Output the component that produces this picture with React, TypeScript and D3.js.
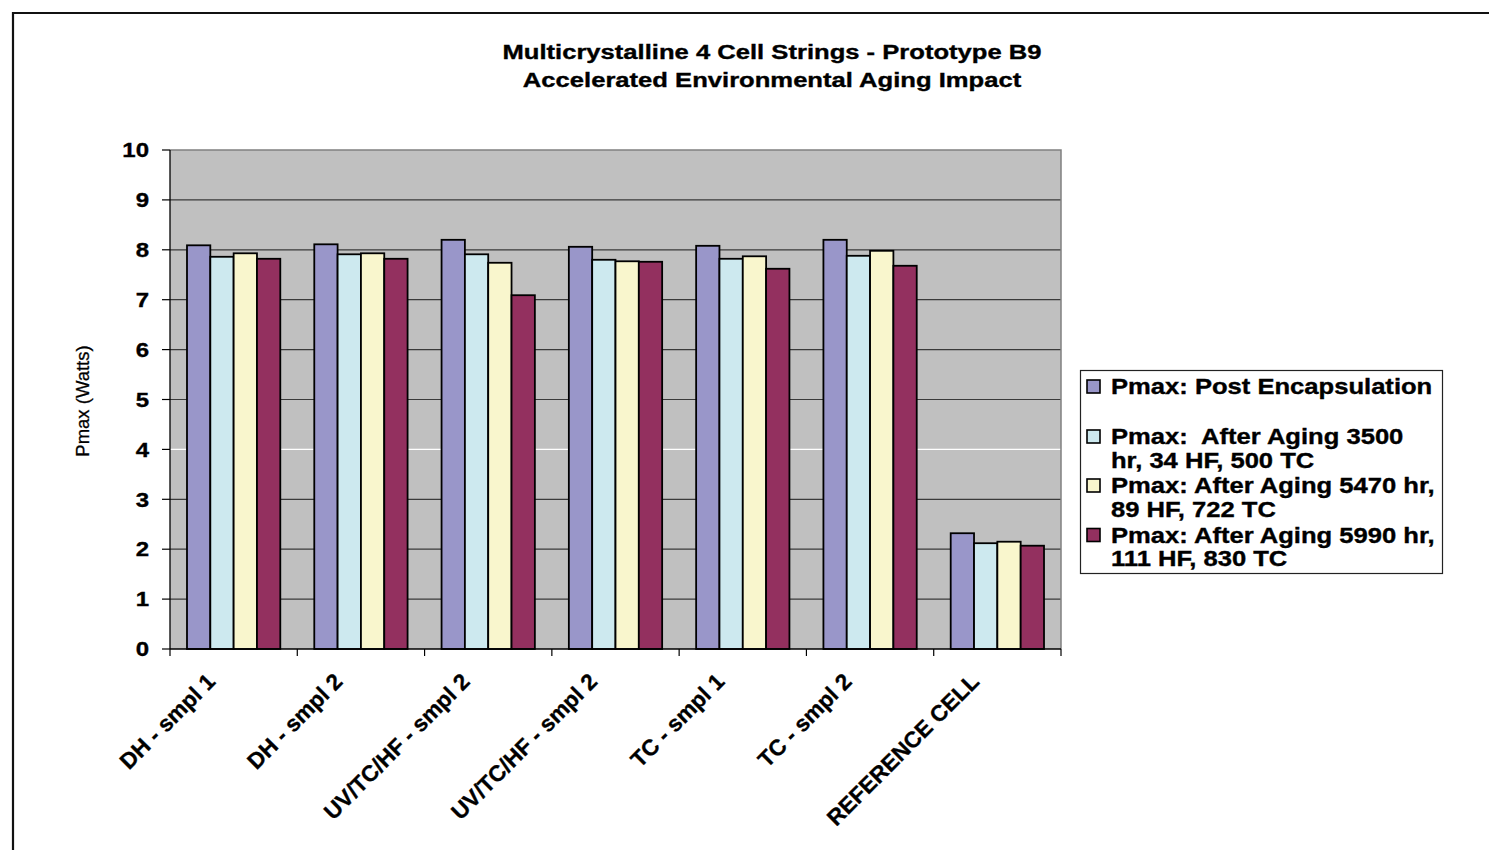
import React from "react";
import * as d3 from "d3";

// Sample categories along the x axis
const categories = [
  "DH - smpl 1",
  "DH - smpl 2",
  "UV/TC/HF - smpl 2",
  "UV/TC/HF - smpl 2 ",
  "TC - smpl 1",
  "TC - smpl 2",
  "REFERENCE CELL",
];

// Series names (legend lines) and fill colours
const seriesNames = [
  "Pmax: Post Encapsulation",
  "Pmax:  After Aging 3500 hr, 34 HF, 500 TC",
  "Pmax: After Aging 5470 hr, 89 HF, 722 TC",
  "Pmax: After Aging 5990 hr, 111 HF, 830 TC",
];
const legendLines = [
  ["Pmax: Post Encapsulation", ""],
  ["Pmax:  After Aging 3500", "hr, 34 HF, 500 TC"],
  ["Pmax: After Aging 5470 hr,", "89 HF, 722 TC"],
  ["Pmax: After Aging 5990 hr,", "111 HF, 830 TC"],
];
const seriesColors = ["#9996C9", "#CDE9EF", "#F9F6CD", "#93305F"];

// Pmax values (Watts), one array per series, in category order
const postEncapsulation = [8.09, 8.11, 8.2, 8.06, 8.08, 8.2, 2.32];
const aging3500 = [7.86, 7.91, 7.91, 7.8, 7.82, 7.88, 2.12];
const aging5470 = [7.93, 7.93, 7.74, 7.77, 7.87, 7.98, 2.15];
const aging5990 = [7.82, 7.82, 7.09, 7.76, 7.62, 7.68, 2.07];
const seriesValues = [postEncapsulation, aging3500, aging5470, aging5990];

const yTicks = [0, 1, 2, 3, 4, 5, 6, 7, 8, 9, 10];

const titleLines = [
  "Multicrystalline 4 Cell Strings - Prototype B9",
  "Accelerated Environmental Aging Impact",
];

const FONT = "'Liberation Sans', Arial, Helvetica, sans-serif";

export default function App() {
  const W = 1489;
  const H = 850;
  const plot = { left: 170, right: 1061, top: 150, bottom: 649 };

  const x = d3
    .scaleBand<number>()
    .domain(d3.range(categories.length))
    .range([plot.left, plot.right])
    .paddingInner(0.267)
    .paddingOuter(0.1335);
  const xs = d3
    .scaleBand<number>()
    .domain(d3.range(seriesValues.length))
    .range([0, x.bandwidth()]);
  const y = d3.scaleLinear().domain([0, 10]).range([plot.bottom, plot.top]);
  const step = x.step();

  // slightly heavier bold text
  const heavy = { stroke: "#000", strokeWidth: 0.35 };

  return (
    <svg
      width={W}
      height={H}
      style={{ position: "absolute", left: 0, top: 0, display: "block" }}
      fontFamily={FONT}
    >
      <rect x={0} y={0} width={W} height={H} fill="#ffffff" />
      {/* outer chart frame */}
      <path d={`M13,${H} V13 H${W}`} fill="none" stroke="#111" strokeWidth={2.2} />

      {/* title */}
      {titleLines.map((t, i) => (
        <text
          key={t}
          transform={`translate(772,${59 + i * 28}) scale(1.28,1)`}
          textAnchor="middle"
          fontSize={20}
          fontWeight="bold"
          fill="#000"
          {...heavy}
        >
          {t}
        </text>
      ))}

      {/* plot background */}
      <rect
        x={plot.left}
        y={plot.top}
        width={plot.right - plot.left}
        height={plot.bottom - plot.top}
        fill="#C0C0C0"
      />
      {/* gridlines */}
      {yTicks
        .filter((t) => t > 0 && t < 10)
        .map((t) => (
          <line
            key={t}
            x1={plot.left}
            x2={plot.right}
            y1={y(t)}
            y2={y(t)}
            stroke={t === 4 ? "#ffffff" : "#3a3a3a"}
            strokeWidth={1.2}
          />
        ))}
      {/* plot frame top/right */}
      <path
        d={`M${plot.left},${plot.top} H${plot.right} V${plot.bottom}`}
        fill="none"
        stroke="#808080"
        strokeWidth={1.5}
      />

      {/* bars */}
      {categories.map((c, ci) => (
        <g key={ci} transform={`translate(${x(ci)},0)`}>
          {seriesValues.map((vals, si) => (
            <rect
              key={si}
              x={xs(si)}
              y={y(vals[ci])}
              width={xs.bandwidth()}
              height={y(0) - y(vals[ci])}
              fill={seriesColors[si]}
              stroke="#000"
              strokeWidth={1.8}
            >
              <title>{`${seriesNames[si]}: ${vals[ci]}`}</title>
            </rect>
          ))}
        </g>
      ))}

      {/* y axis */}
      <line x1={plot.left} x2={plot.left} y1={plot.top} y2={plot.bottom} stroke="#000" strokeWidth={1.3} />
      {yTicks.map((t) => (
        <g key={t}>
          <line x1={plot.left - 8} x2={plot.left} y1={y(t)} y2={y(t)} stroke="#000" strokeWidth={1.2} />
          <text
            transform={`translate(149,${y(t)}) scale(1.2,1)`}
            dy="0.36em"
            textAnchor="end"
            fontSize={20}
            fontWeight="bold"
            {...heavy}
          >
            {t}
          </text>
        </g>
      ))}
      <text
        transform="translate(89,401) rotate(-90)"
        textAnchor="middle"
        fontSize={18.5}
        fill="#000"
        stroke="#000"
        strokeWidth={0.3}
      >
        Pmax (Watts)
      </text>

      {/* x axis */}
      <line x1={plot.left} x2={plot.right} y1={plot.bottom} y2={plot.bottom} stroke="#000" strokeWidth={1.3} />
      {d3.range(categories.length + 1).map((i) => (
        <line
          key={i}
          x1={plot.left + i * step}
          x2={plot.left + i * step}
          y1={plot.bottom}
          y2={plot.bottom + 7}
          stroke="#000"
          strokeWidth={1.2}
        />
      ))}
      {categories.map((c, ci) => (
        <text
          key={ci}
          transform={`translate(${x(ci)! + x.bandwidth() / 2 - 17},683) rotate(-45)`}
          textAnchor="end"
          fontSize={22.5}
          fontWeight="bold"
          {...heavy}
        >
          {c.trim()}
        </text>
      ))}

      {/* legend */}
      <rect x={1080.5} y={370.5} width={362} height={203} fill="#fff" stroke="#222" strokeWidth={1.2} />
      {legendLines.map((lines, i) => {
        const base = [394, 444, 493, 542.5][i];
        return (
          <g key={i}>
            <rect
              x={1087}
              y={base - 14}
              width={13}
              height={13}
              fill={seriesColors[i]}
              stroke="#000"
              strokeWidth={1.6}
            />
            {lines.map((l, li) =>
              l ? (
                <text
                  key={li}
                  transform={`translate(1111,${base + li * 23.5}) scale(1.19,1)`}
                  fontSize={21.5}
                  fontWeight="bold"
                  style={{ whiteSpace: "pre" }}
                  {...heavy}
                >
                  {l}
                </text>
              ) : null
            )}
          </g>
        );
      })}
    </svg>
  );
}
